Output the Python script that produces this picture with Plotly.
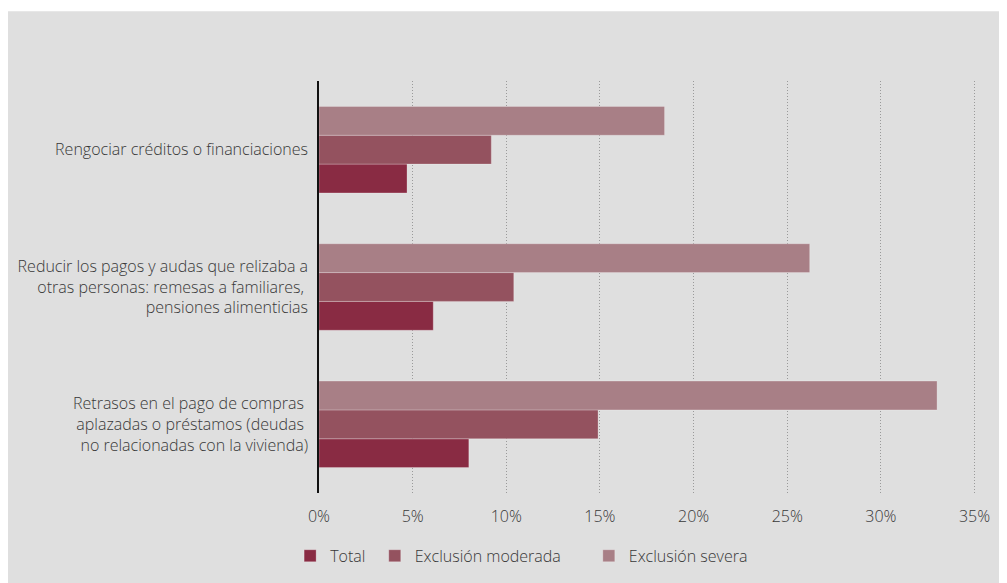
import plotly.graph_objects as go

categories = [
    "Rengociar créditos o financiaciones",
    "Reducir los pagos y audas que relizaba a<br>otras personas: remesas a familiares, <br>pensiones alimenticias",
    "Retrasos en el pago de compras <br>aplazadas o préstamos (deudas <br>no relacionadas con la vivienda)",
]
total = [4.7, 6.1, 8.0]
moderada = [9.2, 10.4, 14.9]
severa = [18.45, 26.2, 33.0]
series_names = ["Total", "Exclusión moderada", "Exclusión severa"]
colors = ["#892b43", "#94525f", "#a87f86"]
tick_vals = [0, 5, 10, 15, 20, 25, 30, 35]
tick_text = ["0%", "5%", "10%", "15%", "20%", "25%", "30%", "35%"]

# page has an 8px body margin; figure is drawn at (8, 8)
OFF = 8
W, H = 1007 - OFF, 583 - OFF
L = 316 - OFF
T = 81 - OFF
R = 10
B = H - (494 - OFF)
pw, ph = W - L - R, H - T - B

legend_ids = ["legend", "legend2", "legend3"]
legend_marker_x = [303, 388, 603]  # page x of legend squares' left edge

fig = go.Figure()
for name, vals, col, lid in zip(series_names, [total, moderada, severa], colors, legend_ids):
    fig.add_trace(go.Bar(
        y=categories, x=vals, name=name, orientation="h", legend=lid,
        marker=dict(color=col, line=dict(color="rgba(255,255,255,0.25)", width=1)),
    ))

font = dict(family="'Open Sans', Lato, sans-serif", size=16, color="#383838", weight=300)

legend_y = -(557 - OFF - (T + ph)) / ph
legends = {}
for lid, mx in zip(legend_ids, legend_marker_x):
    legends[lid] = dict(orientation="h", x=(mx - 16 - OFF - L) / pw, xanchor="left",
                        y=legend_y, yanchor="middle",
                        font=dict(size=16, color="#383838", weight=300),
                        itemwidth=30, bgcolor="rgba(0,0,0,0)")

fig.update_layout(
    width=W, height=H,
    margin=dict(l=L, r=R, t=T, b=B, pad=0),
    paper_bgcolor="white",
    plot_bgcolor="rgba(0,0,0,0)",
    barmode="group",
    bargap=0.37,
    bargroupgap=0,
    font=font,
    showlegend=True,
    xaxis=dict(range=[0, 36.2], tickvals=tick_vals, ticktext=tick_text,
               showgrid=True, gridcolor="#9a9a9a", griddash="1px,2px", gridwidth=1,
               zeroline=False, showline=False, ticks="", ticklabelstandoff=12,
               fixedrange=True),
    yaxis=dict(categoryorder="array", categoryarray=categories[::-1],
               showline=True, linecolor="#111111", linewidth=1.5,
               ticks="", ticklabelstandoff=6, showgrid=False, fixedrange=True),
    shapes=[dict(type="rect", xref="paper", yref="paper", layer="below",
                 x0=-L / pw - 0.01, x1=(W - L + 5) / pw,
                 y0=-(B + 5) / ph, y1=(T + ph - 3) / ph,
                 fillcolor="#dfdfdf", line=dict(width=0))],
    **legends,
)

fig.write_html("out.html")
